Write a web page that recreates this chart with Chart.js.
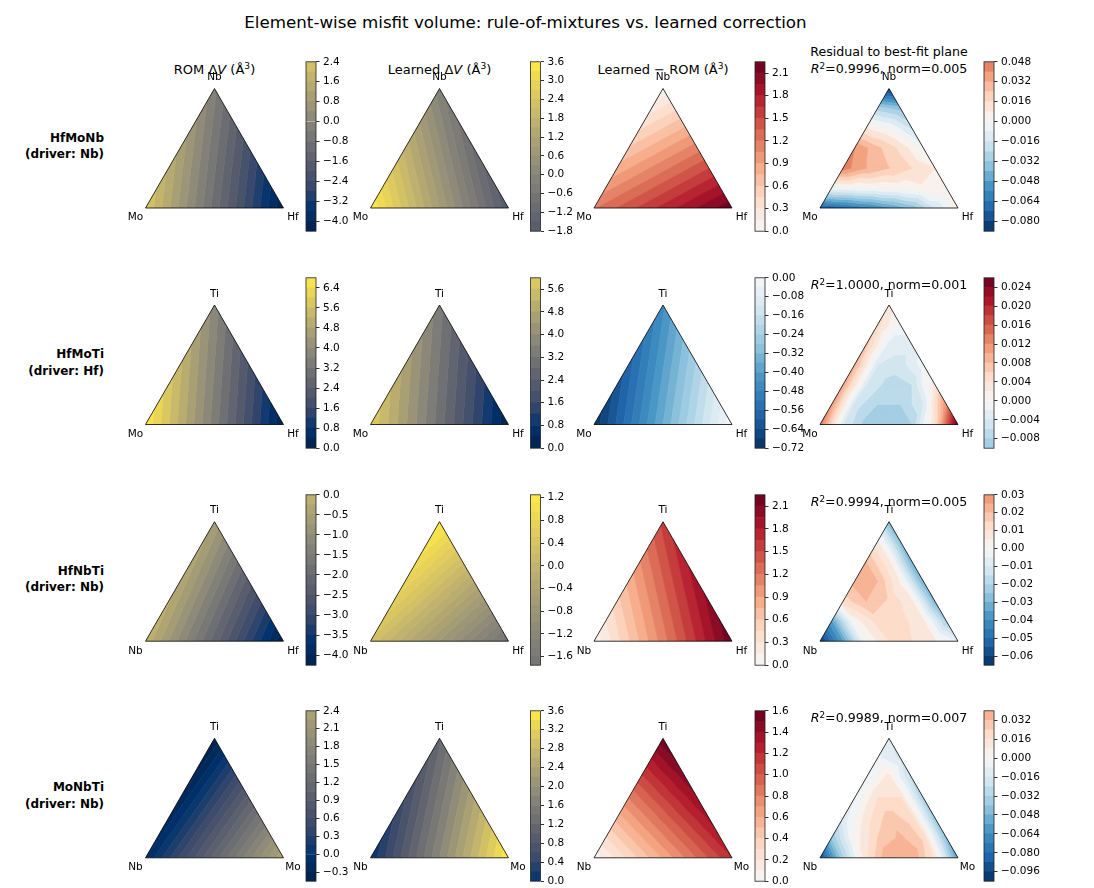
<!DOCTYPE html>
<html>
<head>
<meta charset="UTF-8">
<title>Element-wise misfit volume</title>
<style>
  body { margin: 0; background: #fff; font-family: "DejaVu Sans", sans-serif; }
  #fig { position: relative; width: 1094px; height: 888px; overflow: hidden; background: #fff; }
  .txt { position: absolute; transform: translate(-50%, -50%); white-space: nowrap; color: #000; line-height: 1.2; }
  .sup { font-size: 0.7em; position: relative; top: -0.45em; }
  .rowlab { position: absolute; transform: translate(-100%, -50%); text-align: right; font-weight: bold; font-size: 12px; line-height: 16.5px; white-space: nowrap; }
</style>
</head>
<body>
<div id="fig"></div>

<script src="https://cdn.jsdelivr.net/npm/chart.js"></script>
<script>
  // ---- data ----
  const systems = ["HfMoNb", "HfMoTi", "HfNbTi", "MoNbTi"];
  const drivers = ["Nb", "Hf", "Nb", "Nb"];
  // corner order: [left, right, top]
  const corners = [["Mo", "Hf", "Nb"], ["Mo", "Hf", "Ti"], ["Nb", "Hf", "Ti"], ["Nb", "Mo", "Ti"]];
  const romValues = [[2.4, -4.35, -0.3], [6.75, 0.05, 3.8], [-0.05, -4.2, -0.55], [-0.15, 2.38, -0.42]];
  const learnedValues = [[3.58, -1.78, -0.2], [5.95, 0.05, 3.35], [0.3, -1.72, 1.22], [0.02, 3.58, 1.15]];
  const diffValues = [[1.18, 2.22, 0.05], [-0.71, -0.01, -0.45], [0.03, 2.22, 1.55], [0.03, 1.2, 1.57]];

  // residual to best-fit plane, lattice rows from the base (left -> right) up to the apex
  const residualGrids = [
    [
      [-0.075, -0.068, -0.06, -0.05, -0.038, -0.016, 0.004],
      [-0.004, -0.002, 0.0, 0.002, 0.006, 0.008],
      [0.044, 0.032, 0.024, 0.016, 0.008],
      [0.04, 0.026, 0.014, -0.004],
      [0.008, 0.0, -0.018],
      [-0.028, -0.036],
      [-0.085]
    ],
    [
      [0.014, -0.004, -0.009, -0.010, -0.008, 0.004, 0.026],
      [0.011, -0.005, -0.008, -0.008, -0.004, 0.012],
      [0.010, -0.004, -0.007, -0.006, 0.003],
      [0.009, -0.004, -0.005, -0.001],
      [0.007, -0.003, -0.003],
      [0.005, -0.001],
      [0.003]
    ],
    [
      [-0.062, -0.036, 0.0, 0.01, 0.01, 0.006, -0.006],
      [-0.036, 0.002, 0.012, 0.012, 0.006, -0.022],
      [0.012, 0.02, 0.014, 0.006, -0.03],
      [0.022, 0.02, 0.004, -0.032],
      [0.02, 0.006, -0.032],
      [0.006, -0.028],
      [-0.03]
    ],
    [
      [-0.095, -0.034, 0.014, 0.04, 0.04, 0.012, -0.06],
      [-0.04, 0.002, 0.024, 0.034, 0.022, -0.045],
      [-0.014, 0.012, 0.028, 0.02, -0.04],
      [-0.008, 0.016, 0.016, -0.035],
      [-0.006, 0.012, -0.028],
      [-0.006, -0.018],
      [-0.016]
    ]
  ];
  const r2Values = ["0.9996", "1.0000", "0.9994", "0.9989"];
  const normValues = ["0.005", "0.001", "0.005", "0.007"];

  // contour levels per panel: [lowest, highest, number of bands]
  const levelRanges = [
    [[-4.4, 2.4, 17], [-1.8, 3.6, 18], [0, 2.25, 15], [-0.088, 0.048, 17]],
    [[0, 6.8, 17], [0, 6.0, 15], [-0.72, 0, 18], [-0.010, 0.026, 18]],
    [[-4.25, 0, 17], [-1.75, 1.25, 20], [0, 2.25, 15], [-0.065, 0.030, 19]],
    [[-0.45, 2.4, 19], [0, 3.6, 18], [0, 1.6, 16], [-0.104, 0.040, 18]]
  ];
  const cbTicks = [
    [[2.4, 1.6, 0.8, 0, -0.8, -1.6, -2.4, -3.2, -4.0], [3.6, 3.0, 2.4, 1.8, 1.2, 0.6, 0, -0.6, -1.2, -1.8], [2.1, 1.8, 1.5, 1.2, 0.9, 0.6, 0.3, 0], [0.048, 0.032, 0.016, 0, -0.016, -0.032, -0.048, -0.064, -0.080]],
    [[6.4, 5.6, 4.8, 4.0, 3.2, 2.4, 1.6, 0.8, 0], [5.6, 4.8, 4.0, 3.2, 2.4, 1.6, 0.8, 0], [0, -0.08, -0.16, -0.24, -0.32, -0.40, -0.48, -0.56, -0.64, -0.72], [0.024, 0.020, 0.016, 0.012, 0.008, 0.004, 0, -0.004, -0.008]],
    [[0, -0.5, -1.0, -1.5, -2.0, -2.5, -3.0, -3.5, -4.0], [1.2, 0.8, 0.4, 0, -0.4, -0.8, -1.2, -1.6], [2.1, 1.8, 1.5, 1.2, 0.9, 0.6, 0.3, 0], [0.03, 0.02, 0.01, 0, -0.01, -0.02, -0.03, -0.04, -0.05, -0.06]],
    [[2.4, 2.1, 1.8, 1.5, 1.2, 0.9, 0.6, 0.3, 0, -0.3], [3.6, 3.2, 2.8, 2.4, 2.0, 1.6, 1.2, 0.8, 0.4, 0], [1.6, 1.4, 1.2, 1.0, 0.8, 0.6, 0.4, 0.2, 0], [0.032, 0.016, 0, -0.016, -0.032, -0.048, -0.064, -0.080, -0.096]]
  ];
  const cbDecimals = [[1, 1, 1, 3], [1, 1, 2, 3], [1, 1, 1, 2], [1, 1, 1, 3]];

  // ---- layout ----
  const SQ = Math.sqrt(3) / 2;
  const TRI_W = 138, TRI_H = TRI_W * SQ;
  const colX = [145.5, 370.5, 594, 820];
  const rowY = [88.5, 305, 521.7, 738.3];
  const cbX = [306, 530.5, 755, 984];
  const CB_W = 10, CB_H = 173;
  const FONT = '"DejaVu Sans", sans-serif';

  // ---- colormaps ----
  const CIVIDIS = ["#00204d", "#00336f", "#39486b", "#575c6d", "#707173", "#8a8779", "#a69d75", "#c4b56c", "#e4cf5b", "#ffea46"];
  const RDBU_R = ["#053061", "#2166ac", "#4393c3", "#92c5de", "#d1e5f0", "#f7f7f7", "#fddbc7", "#f4a582", "#d6604d", "#b2182b", "#67001f"];

  function hexToRgb(h) {
    return [parseInt(h.slice(1, 3), 16), parseInt(h.slice(3, 5), 16), parseInt(h.slice(5, 7), 16)];
  }
  function sample(anchors, t) {
    t = Math.max(0, Math.min(1, t));
    const pos = t * (anchors.length - 1);
    const i = Math.min(Math.floor(pos), anchors.length - 2);
    const f = pos - i;
    const a = hexToRgb(anchors[i]), b = hexToRgb(anchors[i + 1]);
    const rgb = a.map((v, k) => Math.round(v + (b[k] - v) * f));
    return `rgb(${rgb[0]},${rgb[1]},${rgb[2]})`;
  }

  function bandColor(r, c, mid) {
    const [lo, hi] = levelRanges[r][c];
    if (c < 2) {
      // the two volume panels of a row share one cividis scale
      const vmin = Math.min(levelRanges[r][0][0], levelRanges[r][1][0]);
      const vmax = Math.max(levelRanges[r][0][1], levelRanges[r][1][1]);
      return sample(CIVIDIS, (mid - vmin) / (vmax - vmin));
    }
    // diverging map centred on zero
    const vm = Math.max(Math.abs(lo), Math.abs(hi));
    return sample(RDBU_R, (mid + vm) / (2 * vm));
  }

  // ---- contour geometry (linear interpolation on a triangular lattice) ----
  function clip(poly, level, keepAbove) {
    const out = [];
    for (let i = 0; i < poly.length; i++) {
      const a = poly[i], b = poly[(i + 1) % poly.length];
      const aIn = keepAbove ? a.v >= level : a.v <= level;
      const bIn = keepAbove ? b.v >= level : b.v <= level;
      if (aIn) out.push(a);
      if (aIn !== bIn) {
        const t = (level - a.v) / (b.v - a.v);
        out.push({ x: a.x + t * (b.x - a.x), y: a.y + t * (b.y - a.y), v: level });
      }
    }
    return out;
  }

  function meshTriangles(grid, lo, hi) {
    const n = grid.length - 1;
    const node = (k, j) => ({
      x: j / n + k / (2 * n),
      y: (k / n) * SQ,
      v: Math.min(hi, Math.max(lo, grid[k][j]))
    });
    const tris = [];
    for (let k = 0; k < n; k++) {
      for (let j = 0; j < n - k; j++) {
        tris.push([node(k, j), node(k, j + 1), node(k + 1, j)]);
        if (j < n - k - 1) tris.push([node(k, j + 1), node(k + 1, j + 1), node(k + 1, j)]);
      }
    }
    return tris;
  }

  // ---- DOM helpers ----
  const fig = document.getElementById("fig");

  function addText(html, x, y, size) {
    const d = document.createElement("div");
    d.className = "txt";
    d.innerHTML = html;
    d.style.left = x + "px";
    d.style.top = y + "px";
    d.style.fontSize = size + "px";
    fig.appendChild(d);
  }

  function makeCanvas(left, top, w, h) {
    const c = document.createElement("canvas");
    c.width = w;
    c.height = h;
    c.style.cssText = `position:absolute;left:${left}px;top:${top}px;width:${w}px;height:${h}px`;
    fig.appendChild(c);
    return c;
  }

  function fmt(v, dec) {
    const s = Math.abs(v) < 1e-12 ? (0).toFixed(dec) : v.toFixed(dec);
    return s.replace("-", "\u2212");
  }

  // ---- ternary panel ----
  function drawTernary(r, c, grid, bands, lo, hi) {
    const triLeft = colX[c], triTop = rowY[r];
    const left = Math.floor(triLeft) - 30, top = Math.floor(triTop) - 22;
    const w = 200, h = 168;
    const padL = triLeft - left, padT = triTop - top;
    const canvas = makeCanvas(left, top, w, h);
    const tris = meshTriangles(grid, lo, hi);
    const labels = corners[r];

    const contourPlugin = {
      id: "contour",
      beforeDatasetsDraw(chart) {
        const { ctx, scales: { x, y } } = chart;
        ctx.save();
        ctx.beginPath();
        ctx.moveTo(x.getPixelForValue(0), y.getPixelForValue(0));
        ctx.lineTo(x.getPixelForValue(1), y.getPixelForValue(0));
        ctx.lineTo(x.getPixelForValue(0.5), y.getPixelForValue(SQ));
        ctx.closePath();
        ctx.clip();
        bands.forEach((band) => {
          ctx.beginPath();
          tris.forEach((tri) => {
            const p = clip(clip(tri, band.lo, true), band.hi, false);
            if (p.length < 3) return;
            p.forEach((pt, i) => {
              const px = x.getPixelForValue(pt.x), py = y.getPixelForValue(pt.y);
              if (i === 0) ctx.moveTo(px, py); else ctx.lineTo(px, py);
            });
            ctx.closePath();
          });
          ctx.fillStyle = band.color;
          ctx.fill();
          ctx.strokeStyle = band.color;
          ctx.lineWidth = 0.7;
          ctx.lineJoin = "round";
          ctx.stroke();
        });
        ctx.restore();
      },
      afterDraw(chart) {
        const { ctx, scales: { x, y } } = chart;
        ctx.save();
        ctx.font = "10.5px " + FONT;
        ctx.fillStyle = "#000";
        ctx.textAlign = "center";
        ctx.textBaseline = "middle";
        ctx.fillText(labels[0], x.getPixelForValue(0) - 10, y.getPixelForValue(0) + 9.6);
        ctx.fillText(labels[1], x.getPixelForValue(1) + 9.5, y.getPixelForValue(0) + 9.6);
        ctx.fillText(labels[2], x.getPixelForValue(0.5), y.getPixelForValue(SQ) - 11);
        ctx.restore();
      }
    };

    new Chart(canvas, {
      type: "scatter",
      data: {
        datasets: [{
          data: [{ x: 0, y: 0 }, { x: 1, y: 0 }, { x: 0.5, y: SQ }, { x: 0, y: 0 }],
          showLine: true,
          borderColor: "#000",
          borderWidth: 0.8,
          borderJoinStyle: "miter",
          pointRadius: 0,
          fill: false,
          clip: false
        }]
      },
      options: {
        responsive: false,
        animation: false,
        devicePixelRatio: 1,
        events: [],
        layout: { padding: { left: padL, top: padT, right: w - padL - TRI_W, bottom: h - padT - TRI_H } },
        scales: {
          x: { type: "linear", min: 0, max: 1, display: false },
          y: { type: "linear", min: 0, max: SQ, display: false }
        },
        plugins: { legend: { display: false }, tooltip: { enabled: false } }
      },
      plugins: [contourPlugin]
    });
  }

  // ---- colorbar ----
  function drawColorbar(r, c, bands, lo, hi) {
    const barLeft = cbX[c], barTop = rowY[r] - 28.5;
    const left = Math.floor(barLeft) - 2, top = Math.floor(barTop) - 8;
    const axisW = 52;
    const padL = barLeft - left, padT = barTop - top;
    const w = Math.ceil(padL + CB_W + axisW), h = Math.ceil(padT + CB_H + 8);
    const canvas = makeCanvas(left, top, w, h);
    const ticks = cbTicks[r][c], dec = cbDecimals[r][c];

    const outlinePlugin = {
      id: "outline",
      afterDraw(chart) {
        const { ctx, chartArea: a } = chart;
        ctx.save();
        ctx.strokeStyle = "#222";
        ctx.lineWidth = 0.8;
        ctx.strokeRect(a.left, a.top, a.right - a.left, a.bottom - a.top);
        ctx.restore();
      }
    };

    new Chart(canvas, {
      type: "bar",
      data: {
        labels: [""],
        datasets: bands.map((b) => ({
          data: [[b.lo, b.hi]],
          backgroundColor: b.color,
          borderWidth: 0,
          grouped: false,
          barPercentage: 1,
          categoryPercentage: 1
        }))
      },
      options: {
        responsive: false,
        animation: false,
        devicePixelRatio: 1,
        events: [],
        layout: { padding: { left: padL, top: padT, right: w - padL - CB_W - axisW, bottom: h - padT - CB_H } },
        scales: {
          x: { display: false },
          y: {
            position: "right",
            min: lo,
            max: hi,
            afterBuildTicks: (axis) => { axis.ticks = ticks.map((v) => ({ value: v })); },
            afterFit: (axis) => { axis.width = axisW; },
            ticks: {
              autoSkip: false,
              padding: 3.5,
              color: "#000",
              font: { family: FONT, size: 10.5 },
              callback: (v) => fmt(v, dec)
            },
            grid: { drawOnChartArea: false, drawTicks: true, tickLength: 3.5, color: "#000", lineWidth: 0.8 },
            border: { display: false }
          }
        },
        plugins: { legend: { display: false }, tooltip: { enabled: false } }
      },
      plugins: [outlinePlugin]
    });
  }

  // ---- build the figure ----
  addText("Element-wise misfit volume: rule-of-mixtures vs. learned correction", 525.5, 22, 16.7);

  const colTitles = [
    'ROM &Delta;<i>V</i> (&Aring;<span class="sup">3</span>)',
    'Learned &Delta;<i>V</i> (&Aring;<span class="sup">3</span>)',
    'Learned &minus; ROM (&Aring;<span class="sup">3</span>)'
  ];
  colTitles.forEach((t, c) => addText(t, colX[c] + TRI_W / 2, rowY[0] - 19, 13));

  const fieldSets = [romValues, learnedValues, diffValues];
  for (let r = 0; r < 4; r++) {
    const lab = document.createElement("div");
    lab.className = "rowlab";
    lab.innerHTML = systems[r] + "<br>(driver: " + drivers[r] + ")";
    lab.style.left = "104px";
    lab.style.top = (rowY[r] + 57) + "px";
    fig.appendChild(lab);

    const resTitle = '<i>R</i><span class="sup">2</span>=' + r2Values[r] + ", norm=" + normValues[r];
    if (r === 0) {
      addText("Residual to best-fit plane", colX[3] + TRI_W / 2, rowY[r] - 36.5, 12.6);
    }
    addText(resTitle, colX[3] + TRI_W / 2, rowY[r] - 20, 12.6);

    for (let c = 0; c < 4; c++) {
      let grid;
      if (c < 3) {
        const v = fieldSets[c][r];
        grid = [[v[0], v[1]], [v[2]]];
      } else {
        grid = residualGrids[r];
      }
      const [lo, hi, n] = levelRanges[r][c];
      const bands = [];
      for (let i = 0; i < n; i++) {
        const bLo = lo + (hi - lo) * i / n;
        const bHi = lo + (hi - lo) * (i + 1) / n;
        bands.push({ lo: bLo, hi: bHi, color: bandColor(r, c, (bLo + bHi) / 2) });
      }
      drawTernary(r, c, grid, bands, lo, hi);
      drawColorbar(r, c, bands, lo, hi);
    }
  }
</script>
</body>
</html>
